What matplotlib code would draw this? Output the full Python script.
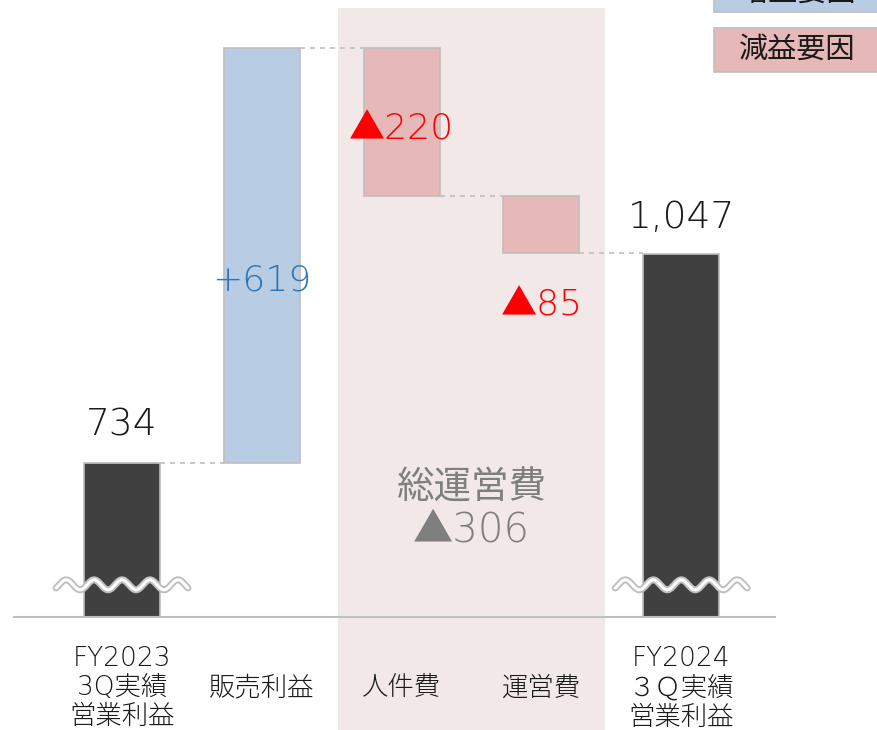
import numpy as np
import matplotlib.pyplot as plt
from matplotlib.patches import Rectangle
from matplotlib.transforms import blended_transform_factory

plt.rcParams['font.family'] = ['DejaVu Sans', 'Noto Sans CJK JP']

# data
categories = ['FY2023\n3Q実績\n営業利益', '販売利益', '人件費', '運営費', 'FY2024\n３Ｑ実績\n営業利益']
start_value = 734
changes = [619, -220, -85]
end_value = 1047
value_labels = ['734', '+619', '▲220', '▲85', '1,047']
total_label = ['総運営費', '▲306']

# colors
dark = '#404040'
up_col = '#b8cce4'
down_col = '#e6b9b8'
edge = '#bfbfbf'
shade = '#f2e8e8'

# waterfall bottoms / heights
bottoms = [0]
heights = [start_value]
level = start_value
for c in changes:
    bottoms.append(level if c > 0 else level + c)
    heights.append(abs(c))
    level += c
bottoms.append(0)
heights.append(end_value)
colors = [dark] + [up_col if c > 0 else down_col for c in changes] + [dark]

fig = plt.figure(figsize=(8.77, 7.30), dpi=100)
ax = fig.add_axes([0, 113 / 730, 1, 617 / 730])
ax.set_xlim(-0.873, 5.40)
ax.set_ylim(505, 1425)
ax.axis('off')

x = np.arange(len(categories))
w = 0.544

# shaded band behind the operating expense items
ax.axvspan(1.546, 3.456, ymin=-0.183, ymax=0.987, color=shade, zorder=0, clip_on=False, lw=0)

ax.bar(x, heights, bottom=bottoms, width=w, color=colors, edgecolor=edge, linewidth=1.2, zorder=2)

# connectors
tops = [b + h for b, h in zip(bottoms, heights)]
levels = [start_value]
for c in changes:
    levels.append(levels[-1] + c)
for i in range(len(categories) - 1):
    ax.plot([x[i] + w / 2, x[i + 1] - w / 2], [levels[i], levels[i]],
            ls=(0, (3, 3)), color=edge, lw=1.2, zorder=1)

# baseline
ax.axhline(ax.get_ylim()[0], xmin=14 / 877, xmax=775 / 877, color='#bfbfbf', lw=1.5, clip_on=False)

# break marks
for i in [0, len(categories) - 1]:
    xs = np.linspace(x[i] - 0.472, x[i] + 0.472, 200)
    ys = 553 + 7.5 * np.sin((xs - x[i]) / 0.2 * 2 * np.pi + np.pi / 2)
    ax.plot(xs, ys, color='#bfbfbf', lw=5, zorder=3, solid_capstyle='round')
    ax.plot(xs, ys, color='white', lw=2.2, zorder=4, solid_capstyle='round')

# value labels
num_kw = dict(ha='center', va='center', fontweight='light')
ax.annotate(value_labels[0], (x[0], tops[0]), xytext=(0, 28), textcoords='offset points',
            fontsize=27, color='#1a1a1a', **num_kw)
ax.annotate(value_labels[4], (x[4], tops[4]), xytext=(0, 26), textcoords='offset points',
            fontsize=27, color='#1a1a1a', **num_kw)
ax.text(x[1], bottoms[1] + heights[1] * 0.44, value_labels[1], fontsize=26, color='#2e75b6', **num_kw)
ax.text(x[2], bottoms[2] + heights[2] * 0.45, value_labels[2], fontsize=26, color='#ff0000', **num_kw)
ax.annotate(value_labels[3], (x[3], bottoms[3]), xytext=(0, -38), textcoords='offset points',
            fontsize=26, color='#ff0000', **num_kw)

# total label
trans = blended_transform_factory(ax.transData, ax.transAxes)
ax.text(2.5, 0.209, total_label[0], transform=trans, ha='center', va='center',
        fontsize=27, color='#7f7f7f', family=['Noto Sans CJK JP'])
ax.text(2.5, 0.141, total_label[1], transform=trans, fontsize=29, color='#7f7f7f', **num_kw)

# category labels
for xi, lab in zip(x, categories):
    ax.text(xi, -0.115, lab, transform=trans, ha='center', va='center',
            fontsize=19, linespacing=1.2, color='#1a1a1a', fontweight='light')

# legend boxes
fig.add_artist(Rectangle((714 / 877, 1 - 12 / 730), 170 / 877, 44 / 730, transform=fig.transFigure,
                         facecolor=up_col, edgecolor=edge, lw=1.2))
fig.text(797 / 877, 1 + 7 / 730, '増益要因', ha='center', va='center', fontsize=21,
         color='#1a1a1a', family=['Noto Sans CJK JP'])
fig.add_artist(Rectangle((714 / 877, 1 - 72 / 730), 170 / 877, 44 / 730, transform=fig.transFigure,
                         facecolor=down_col, edgecolor=edge, lw=1.2))
fig.text(797 / 877, 1 - 50 / 730, '減益要因', ha='center', va='center', fontsize=21,
         color='#1a1a1a', family=['Noto Sans CJK JP'])

fig.savefig('out.png', dpi=100)
